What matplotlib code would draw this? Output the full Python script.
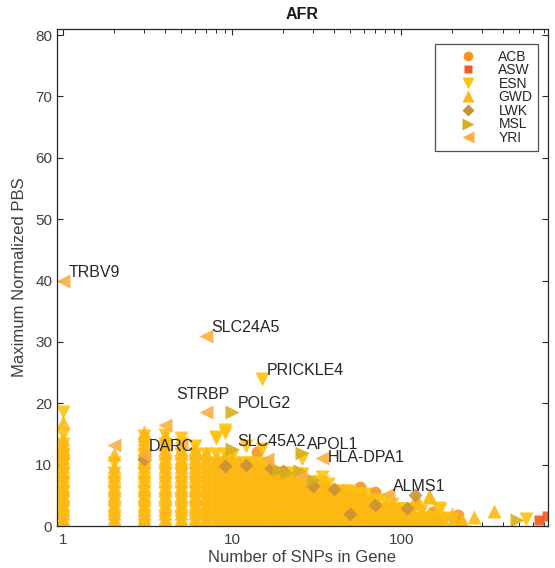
import matplotlib
matplotlib.use('Agg')
import matplotlib.pyplot as plt
from matplotlib.lines import Line2D

plt.rcParams['font.family'] = ['Liberation Sans', 'DejaVu Sans']

# ---------------- data ----------------
POPS = ['ACB', 'ASW', 'ESN', 'GWD', 'LWK', 'MSL', 'YRI']

# dense cloud: SNP-count columns and the y values of GWD (up) / ESN (down) markers in each
CLOUD_X = [1, 2, 3, 4, 5, 6, 7, 8, 9, 10, 11, 12, 13, 14, 15, 16, 18, 20, 22, 24, 26, 28,
           31, 34, 37, 41, 45, 50, 55, 60, 66, 73, 80, 88, 97, 107, 118, 130, 145, 160, 180, 200]

GWD_COLS = [
    [0.6, 1.35, 2.1, 2.85, 3.6, 4.35, 5.1, 5.85, 6.6, 7.35, 8.1, 8.85, 9.6, 10.35, 11.1, 11.85, 12.6, 13.35, 14.1],
    [0.6, 1.35, 2.1, 2.85, 3.6, 4.35, 5.1, 5.85, 6.6, 7.35, 8.1, 8.85, 9.6],
    [0.6, 1.35, 2.1, 2.85, 3.6, 4.35, 5.1, 5.85, 6.6, 7.35, 8.1, 8.85, 9.6, 10.35, 11.1, 11.85, 12.6, 13.35, 14.1, 14.85, 15.4],
    [0.6, 1.35, 2.1, 2.85, 3.6, 4.35, 5.1, 5.85, 6.6, 7.35, 8.1, 8.85, 9.6, 10.35, 11.1, 11.85, 12.6, 13.35, 14.1, 14.85],
    [0.6, 1.35, 2.1, 2.85, 3.6, 4.35, 5.1, 5.85, 6.6, 7.35, 8.1, 8.85, 9.6, 10.35, 11.1, 11.85, 12.6],
    [0.6, 1.35, 2.1, 2.85, 3.6, 4.35, 5.1, 5.85, 6.6, 7.35, 8.1, 8.85, 9.6, 10.35, 11.1, 11.85, 12.6],
    [0.6, 1.35, 2.1, 2.85, 3.6, 4.35, 5.1, 5.85, 6.6, 7.35, 8.1, 8.85, 9.6, 10.35, 11.1, 11.85],
    [0.6, 1.35, 2.1, 2.85, 3.6, 4.35, 5.1, 5.85, 6.6, 7.35, 8.1, 8.85, 9.6, 10.35, 11.1],
    [0.6, 1.35, 2.1, 2.85, 3.6, 4.35, 5.1, 5.85, 6.6, 7.35, 8.1, 8.85, 9.6, 10.35, 11.1],
    [0.6, 1.35, 2.1, 2.85, 3.6, 4.35, 5.1, 5.85, 6.6, 7.35, 8.1, 8.85, 9.6, 10.35, 11.1],
    [0.6, 1.35, 2.1, 2.85, 3.6, 4.35, 5.1, 5.85, 6.6, 7.35, 8.1, 8.85, 9.6, 10.35],
    [0.6, 1.35, 2.1, 2.85, 3.6, 4.35, 5.1, 5.85, 6.6, 7.35, 8.1, 8.85, 9.6, 10.35],
    [0.6, 1.35, 2.1, 2.85, 3.6, 4.35, 5.1, 5.85, 6.6, 7.35, 8.1, 8.85, 9.6],
    [0.6, 1.35, 2.1, 2.85, 3.6, 4.35, 5.1, 5.85, 6.6, 7.35, 8.1, 8.85, 9.6],
    [0.6, 1.35, 2.1, 2.85, 3.6, 4.35, 5.1, 5.85, 6.6, 7.35, 8.1, 8.85, 9.6],
    [0.6, 1.35, 2.1, 2.85, 3.6, 4.35, 5.1, 5.85, 6.6, 7.35, 8.1, 8.85, 9.6],
    [0.6, 1.35, 2.1, 2.85, 3.6, 4.35, 5.1, 5.85, 6.6, 7.35, 8.1, 8.85],
    [0.6, 1.35, 2.1, 2.85, 3.6, 4.35, 5.1, 5.85, 6.6, 7.35, 8.1, 8.85],
    [0.6, 1.35, 2.1, 2.85, 3.6, 4.35, 5.1, 5.85, 6.6, 7.35, 8.1],
    [0.6, 1.35, 2.1, 2.85, 3.6, 4.35, 5.1, 5.85, 6.6, 7.35, 8.1],
    [0.6, 1.35, 2.1, 2.85, 3.6, 4.35, 5.1, 5.85, 6.6, 7.35, 8.1],
    [0.6, 1.35, 2.1, 2.85, 3.6, 4.35, 5.1, 5.85, 6.6, 7.35],
    [0.6, 1.35, 2.1, 2.85, 3.6, 4.35, 5.1, 5.85, 6.6, 7.35],
    [0.6, 1.35, 2.1, 2.85, 3.6, 4.35, 5.1, 5.85, 6.6],
    [0.6, 1.35, 2.1, 2.85, 3.6, 4.35, 5.1, 5.85, 6.6],
    [0.6, 1.35, 2.1, 2.85, 3.6, 4.35, 5.1, 5.85],
    [0.6, 1.35, 2.1, 2.85, 3.6, 4.35, 5.1, 5.85],
    [0.6, 1.35, 2.1, 2.85, 3.6, 4.35, 5.1],
    [0.6, 1.35, 2.1, 2.85, 3.6, 4.35, 5.1],
    [0.6, 1.35, 2.1, 2.85, 3.6, 4.35, 5.1],
    [0.6, 1.35, 2.1, 2.85, 3.6, 4.35],
    [0.6, 1.35, 2.1, 2.85, 3.6],
    [0.6, 1.35, 2.1, 2.85, 3.6],
    [0.6, 1.35, 2.1, 2.85, 3.6],
    [0.6, 1.35, 2.1, 2.85],
    [0.6, 1.35, 2.1, 2.85],
    [0.6, 1.35, 2.1],
    [0.6, 1.35, 2.1],
    [0.6, 1.35, 2.1],
    [0.6, 1.35],
    [0.6],
    [0.6],
]

ESN_COLS = [
    [1.3, 2.8, 4.2, 5.7, 7.2, 8.7, 10.2, 11.8, 13.3, 14.8],
    [1.3, 2.8, 4.2, 5.7, 7.2, 8.6, 10.3],
    [1.3, 2.8, 4.2, 5.7, 7.2, 8.7, 10.2, 11.8, 13.3, 14.6],
    [1.3, 2.8, 4.2, 5.7, 7.2, 8.7, 10.2, 11.8, 13.3, 14.8],
    [1.3, 2.8, 4.2, 5.7, 7.2, 8.7, 10.2, 11.8, 13.3, 14.3],
    [1.3, 2.8, 4.2, 5.7, 7.2, 8.7, 10.2, 11.8, 13.0],
    [1.3, 2.8, 4.2, 5.7, 7.2, 8.7, 10.2, 11.8],
    [1.3, 2.8, 4.2, 5.7, 7.2, 8.7, 10.2, 11.8],
    [1.3, 2.8, 4.2, 5.7, 7.2, 8.7, 10.2, 11.8],
    [1.3, 2.8, 4.2, 5.7, 7.2, 8.7, 10.2, 11.4],
    [1.3, 2.8, 4.2, 5.7, 7.2, 8.7, 10.2],
    [1.3, 2.8, 4.2, 5.7, 7.2, 8.7, 10.2],
    [1.3, 2.8, 4.2, 5.7, 7.2, 8.7, 10.2],
    [1.3, 2.8, 4.2, 5.7, 7.2, 8.7, 10.2],
    [1.3, 2.8, 4.2, 5.7, 7.2, 8.7, 9.9],
    [1.3, 2.8, 4.2, 5.7, 7.2, 8.7, 9.9],
    [1.3, 2.8, 4.2, 5.7, 7.2, 8.7],
    [1.3, 2.8, 4.2, 5.7, 7.2, 8.7],
    [1.3, 2.8, 4.2, 5.7, 7.2, 8.7],
    [1.3, 2.8, 4.2, 5.7, 7.2, 8.4],
    [1.3, 2.8, 4.2, 5.7, 7.2, 8.4],
    [1.3, 2.8, 4.2, 5.7, 7.2],
    [1.3, 2.8, 4.2, 5.7, 7.2],
    [1.3, 2.8, 4.2, 5.7, 7.2],
    [1.3, 2.8, 4.2, 5.7, 6.9],
    [1.3, 2.8, 4.2, 5.7],
    [1.3, 2.8, 4.2, 5.7],
    [1.3, 2.8, 4.2, 5.7],
    [1.3, 2.8, 4.2, 5.2],
    [1.3, 2.8, 4.2, 5.2],
    [1.3, 2.8, 4.2],
    [1.3, 2.8, 4.2],
    [1.3, 2.8, 4.2],
    [1.3, 2.8, 3.6],
    [1.3, 2.8],
    [1.3, 2.8],
    [1.3, 2.8],
    [1.3, 2.4],
    [1.3],
    [1.3],
    [1.3],
    [1.1],
]

# scattered / outlying points per population
ACB_X = [1, 1, 3, 5, 9, 12, 13, 14, 16, 35, 45, 52, 57, 70, 100, 154, 176, 217, 222]
ACB_Y = [11.3, 11.8, 11.0, 9.5, 10.8, 9.5, 10.3, 12.0, 10.5, 6.5, 5.8, 5.7, 6.4, 5.6, 2.5, 2.3, 1.5, 1.8, 0.6]

ASW_X = [3, 95, 150, 649, 725]
ASW_Y = [0.5, 0.8, 0.7, 0.9, 1.6]

ESN_X = [1, 8, 8, 9, 9, 12, 15, 15, 26, 34, 98, 166, 170, 545]
ESN_Y = [18.6, 14.4, 14.5, 15.2, 15.6, 13.0, 12.6, 24.0, 10.9, 8.0, 2.8, 2.9, 2.8, 1.1]

GWD_X = [1, 2, 120, 128, 146, 148, 200, 230, 268, 352]
GWD_Y = [17.0, 11.7, 4.2, 3.7, 4.9, 4.8, 2.0, 1.0, 1.5, 2.5]

LWK_X = [3, 9, 12, 17, 20, 30, 40, 50, 70, 108, 120]
LWK_Y = [11.0, 9.7, 10.0, 9.5, 9.0, 6.5, 6.0, 2.0, 3.5, 2.9, 5.0]

MSL_X = [10, 10, 19, 21, 25, 26, 30, 482]
MSL_Y = [18.6, 12.5, 9.2, 8.6, 9.0, 11.9, 7.5, 1.0]

YRI_X = [1, 2, 3, 4, 5, 7, 7, 16, 25, 34, 83]
YRI_Y = [40.0, 13.2, 11.6, 16.4, 13.5, 31.0, 18.6, 11.0, 8.0, 11.1, 5.2]

# labelled genes
GENES = ['TRBV9', 'SLC24A5', 'PRICKLE4', 'STRBP', 'POLG2', 'DARC', 'SLC45A2', 'APOL1', 'HLA-DPA1', 'ALMS1']
GENE_X = [1, 7, 15, 7, 10, 3, 10, 26, 34, 83]
GENE_Y = [40.0, 31.0, 24.0, 18.6, 18.6, 11.6, 12.5, 11.9, 11.1, 5.2]

X_TICKS = [1, 10, 100]
X_TICK_LABELS = ['1', '10', '100']
Y_TICKS = [0, 10, 20, 30, 40, 50, 60, 70, 80]

# ---------------- style ----------------
MARKERS = {'ACB': 'o', 'ASW': 's', 'ESN': 'v', 'GWD': '^', 'LWK': 'D', 'MSL': '>', 'YRI': '<'}
SIZES = {'ACB': 8.5, 'ASW': 7.5, 'ESN': 10, 'GWD': 10, 'LWK': 7.5, 'MSL': 9.5, 'YRI': 9.5}
LEG_SIZES = {'ACB': 7, 'ASW': 6, 'ESN': 8.5, 'GWD': 8.5, 'LWK': 6.5, 'MSL': 8, 'YRI': 8}
COLORS = {'ACB': '#F7941D', 'ASW': '#F15A22', 'ESN': '#FFC20E', 'GWD': '#FDB913',
          'LWK': '#C8923A', 'MSL': '#D7AE1E', 'YRI': '#FBB040'}
LABEL_OFFSETS = {'STRBP': (-3, 17, 'center'), 'HLA-DPA1': (6, 0, 'left')}
TEXT_COLOR = '#262626'

W, H = 555, 568
fig = plt.figure(figsize=(W / 100, H / 100), dpi=100)
ax = fig.add_axes([57 / W, 1 - 526 / H, (548 - 57) / W, (526 - 29) / H])

cloud_gx, cloud_gy, cloud_ex, cloud_ey = [], [], [], []
for x, g, e in zip(CLOUD_X, GWD_COLS, ESN_COLS):
    cloud_gx += [x] * len(g)
    cloud_gy += g
    cloud_ex += [x] * len(e)
    cloud_ey += e

series = {
    'ACB': (ACB_X, ACB_Y),
    'ASW': (ASW_X, ASW_Y),
    'ESN': (cloud_ex + ESN_X, cloud_ey + ESN_Y),
    'GWD': (cloud_gx + GWD_X, cloud_gy + GWD_Y),
    'LWK': (LWK_X, LWK_Y),
    'MSL': (MSL_X, MSL_Y),
    'YRI': (YRI_X, YRI_Y),
}

for p in POPS:
    xs, ys = series[p]
    ax.plot(xs, ys, linestyle='none', marker=MARKERS[p], markersize=SIZES[p],
            markerfacecolor=COLORS[p], markeredgecolor='none', alpha=0.9)

for g, x, y in zip(GENES, GENE_X, GENE_Y):
    dx, dy, ha = LABEL_OFFSETS.get(g, (5, 8, 'left'))
    ax.annotate(g, (x, y), xytext=(dx, dy), textcoords='offset pixels',
                ha=ha, va='center', fontsize=11.5, color=TEXT_COLOR)

ax.set_xscale('log')
ax.set_xlim(0.918, 738)
ax.set_ylim(0, 81)
ax.set_xticks(X_TICKS)
ax.set_xticklabels(X_TICK_LABELS)
ax.set_yticks(Y_TICKS)
ax.tick_params(which='both', direction='in', top=True, right=True, labelsize=11,
               colors='#262626', labelcolor='#404040')
ax.tick_params(which='major', length=4.5, width=0.8)
ax.tick_params(which='minor', length=2.8, width=0.7)
ax.tick_params(axis='x', pad=5)
for s in ax.spines.values():
    s.set_color('#262626')
    s.set_linewidth(0.9)

ax.set_xlabel('Number of SNPs in Gene', fontsize=12, color='#404040', labelpad=2)
ax.set_ylabel('Maximum Normalized PBS', fontsize=12, color='#404040', labelpad=6)
ax.set_title('AFR', fontsize=11.5, fontweight='bold', color='#1a1a1a', pad=7)

handles = [Line2D([], [], linestyle='none', marker=MARKERS[p], markersize=LEG_SIZES[p],
                  markerfacecolor=COLORS[p], markeredgecolor='none') for p in POPS]
leg = fig.legend(handles, POPS, loc='upper right', bbox_to_anchor=(538 / W, 1 - 44 / H),
                 fontsize=10, frameon=True, fancybox=False, borderpad=0.4,
                 labelspacing=-0.03, handlelength=4.0, handletextpad=0.2, borderaxespad=0)
leg.get_frame().set_edgecolor('#262626')
leg.get_frame().set_linewidth(0.9)
for t in leg.get_texts():
    t.set_color('#262626')

fig.savefig('out.png', dpi=100)
